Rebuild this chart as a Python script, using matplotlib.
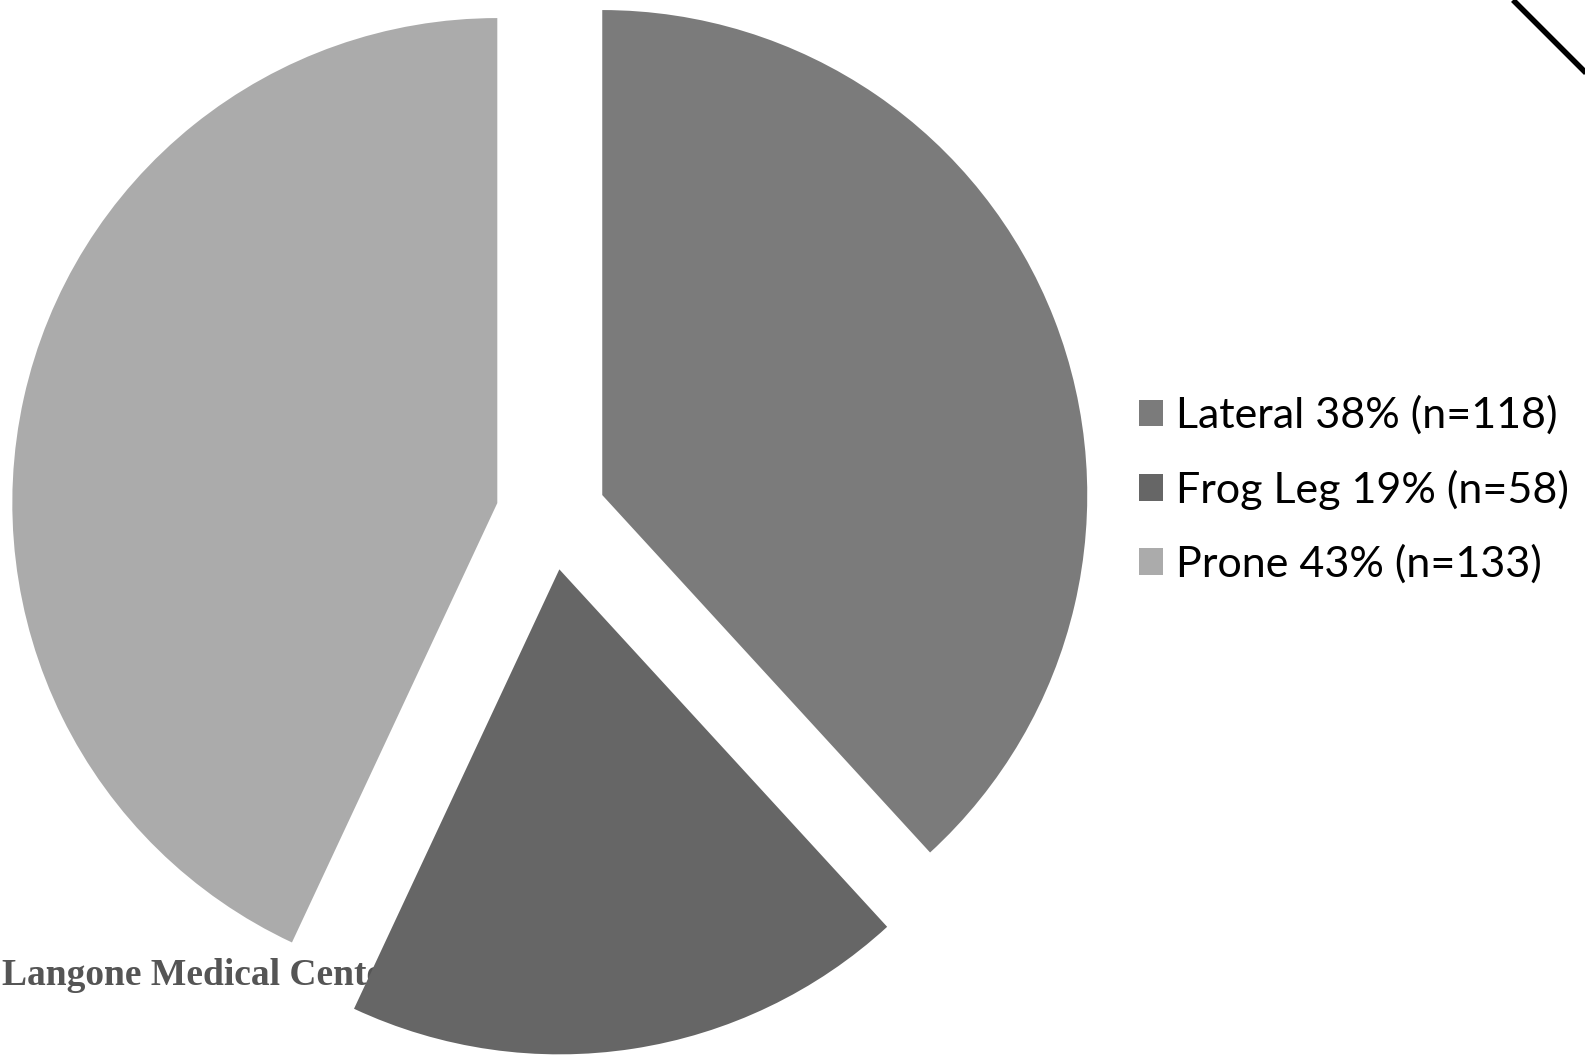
import matplotlib.pyplot as plt

labels = ['Lateral', 'Frog Leg', 'Prone']
counts = [118, 58, 133]
percents = [38, 19, 43]
colors = ['#7b7b7b', '#666666', '#ababab']

W, H = 1585, 1062
fig = plt.figure(figsize=(W / 100, H / 100), dpi=100)
ax = fig.add_axes([0, 0, 1, 1])

# watermark text sitting behind the pie
ax.text(2, H - 985, 'Langone Medical Center', family='Liberation Serif',
        fontweight='bold', fontsize=27, color='#555555', zorder=0)

# explode is in data units here (pixels), not a fraction of the radius
wedges, _ = ax.pie(counts, colors=colors, startangle=90, counterclock=False,
                   explode=[55] * 3, radius=485, center=(551, H - 515),
                   frame=True, wedgeprops=dict(linewidth=0))
for w in wedges:
    w.set_zorder(2)
ax.set_xlim(0, W)
ax.set_ylim(0, H)
ax.axis('off')

leg_labels = [f'{l} {p}% (n={n})' for l, p, n in zip(labels, percents, counts)]
ax.legend(wedges, leg_labels, loc='center left', bbox_to_anchor=(0.694, 0.539),
          frameon=False, prop=dict(family='Lato', size=31),
          handlelength=0.57, handleheight=0.57, handletextpad=0.3,
          labelspacing=0.8)

# corner line
ax.plot([1513, 1590], [H, H - 77], color='black', lw=4, solid_capstyle='butt',
        zorder=3)

fig.savefig('out.png', dpi=100)
